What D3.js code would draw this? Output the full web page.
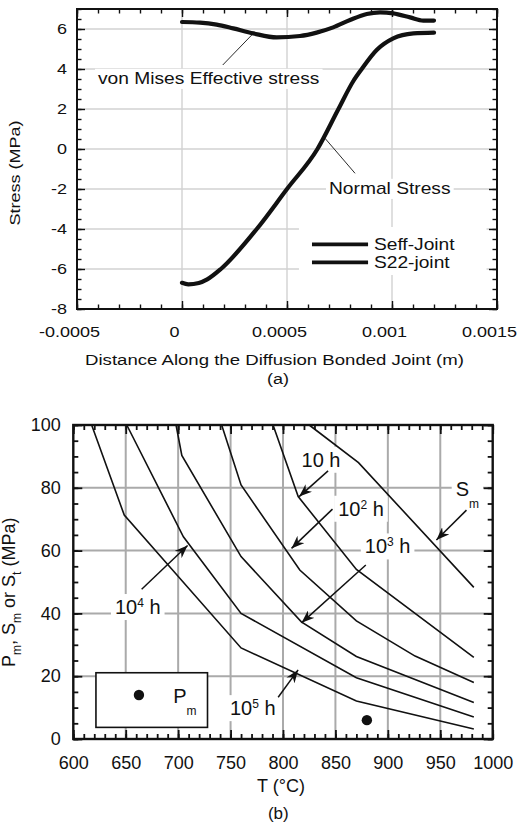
<!DOCTYPE html>
<html>
<head>
<meta charset="utf-8">
<script src="https://cdn.jsdelivr.net/npm/d3@7"></script>
<style>
  body { margin: 0; background: #fff; }
  text { font-family: "Liberation Sans", Arial, sans-serif; fill: #111; }
</style>
</head>
<body>
<svg id="fig" width="518" height="825"></svg>
<script>
// ---------- panel (a): stress along the joint ----------
const seffDist = [0, 0.0000857, 0.000165, 0.000244, 0.00034, 0.000451, 0.000562, 0.000641, 0.00072, 0.0008, 0.00088, 0.000943, 0.001006, 0.001086, 0.001149, 0.0012];
const seffStress = [6.35, 6.32, 6.22, 6.03, 5.78, 5.58, 5.65, 5.82, 6.08, 6.45, 6.75, 6.83, 6.78, 6.58, 6.42, 6.42];
const s22Dist = [0, 0.00003, 0.00008, 0.00012, 0.000185, 0.000356, 0.0005, 0.000645, 0.000745, 0.000816, 0.000856, 0.000927, 0.001006, 0.001102, 0.0012];
const s22Stress = [-6.69, -6.77, -6.7, -6.52, -6.0, -4.0, -2.0, 0.0, 2.0, 3.4, 4.0, 4.95, 5.53, 5.78, 5.82];
const aXTicks = [-0.0005, 0, 0.0005, 0.001, 0.0015];
const aYTicks = [-8, -6, -4, -2, 0, 2, 4, 6];
const aLegend = ["Seff-Joint", "S22-joint"];
const vmLeader = [[0.000194, 4.2], [0.00034, 5.785]];
const nsLeader = [[0.000824, -1.215], [0.000681, 0.535]];

// ---------- panel (b): allowable stress vs temperature ----------
const bXTicks = [600, 650, 700, 750, 800, 850, 900, 950, 1000];
const bYTicks = [0, 20, 40, 60, 80, 100];
const tSm = [825, 872, 982],                    pSm = [100, 88, 48.3];
const t10 = [790.5, 814.5, 870, 982],             p10 = [100, 77.2, 54, 26];
const t1e2 = [741.5, 760, 816, 870, 926, 982],    p1e2 = [100, 80.9, 53.8, 37.6, 26.4, 18];
const t1e3 = [698, 703.5, 760, 817.5, 870, 982],  p1e3 = [100, 90.3, 58.1, 37.3, 26.3, 11.6];
const t1e4 = [651, 705, 760, 870, 982],           p1e4 = [100, 64.4, 40, 19.5, 7];
const t1e5 = [617.5, 648.6, 760, 870, 982],       p1e5 = [100, 71.3, 29, 12.1, 3.2];
const pmT = [880], pmVal = [6];
// labels "10^n h": superscript, text anchor (T, P), arrow start and tip
const hourSup = ["", "2", "3", "4", "5"];
const hourLabelT = [817.7, 852.6, 878, 639.7, 749.4];
const hourLabelP = [86.7, 71.1, 59.1, 39.8, 7.6];
const hourArrowFrom = [[843, 85.4], [847.2, 73.2], [879, 55.4], [665.2, 47.7], [795.4, 13.3]];
const hourArrowTo = [[815.4, 77.2], [808.1, 60.7], [817.7, 37.0], [709, 61.6], [814.4, 22]];
const smArrow = [[975, 72.9], [946.3, 63.4]];

const svg = d3.select("#fig");
const zip = (a, b) => a.map((v, i) => [v, b[i]]);

function stretch(sel, k) {
  sel.each(function () {
    const t = d3.select(this);
    const ax = +t.attr("x") || 0;
    const tr = t.attr("transform") || "";
    t.attr("transform", `${tr} translate(${ax},0) scale(${k},1) translate(${-ax},0)`);
  });
}

// white box behind a text, measured after layout
function whiteBehind(layer, textNode, padX, padY) {
  const b = textNode.getBoundingClientRect();
  layer.append("rect")
    .attr("x", b.left - padX).attr("y", b.top - padY)
    .attr("width", b.width + 2 * padX).attr("height", b.height + 2 * padY)
    .attr("fill", "#fff");
}

function grid(g, x, y, xs, ys, color, w) {
  const [x0, x1] = x.range(), [yb, yt] = y.range();
  g.selectAll(null).data(xs).enter().append("line")
    .attr("x1", d => x(d)).attr("x2", d => x(d)).attr("y1", yb).attr("y2", yt)
    .attr("stroke", color).attr("stroke-width", w);
  g.selectAll(null).data(ys).enter().append("line")
    .attr("y1", d => y(d)).attr("y2", d => y(d)).attr("x1", x0).attr("x2", x1)
    .attr("stroke", color).attr("stroke-width", w);
}

function axes(g, x, y, o) {
  const [x0, x1] = x.range(), [yb, yt] = y.range();
  const fix = s => {
    s.select(".domain").remove();
    s.selectAll("line").attr("stroke", "#111").attr("stroke-width", o.tickW);
    s.attr("font-size", o.fs).attr("font-family", null);
  };
  g.append("g").attr("transform", `translate(0,${yb})`)
    .call(d3.axisBottom(x).tickValues(o.xMinor).tickSize(-o.minor).tickFormat("")).call(fix);
  g.append("g").attr("transform", `translate(0,${yt})`)
    .call(d3.axisTop(x).tickValues(o.xMinor).tickSize(-o.minor).tickFormat("")).call(fix);
  g.append("g").attr("transform", `translate(${x0},0)`)
    .call(d3.axisLeft(y).tickValues(o.yMinor).tickSize(-o.minor).tickFormat("")).call(fix);
  g.append("g").attr("transform", `translate(${x1},0)`)
    .call(d3.axisRight(y).tickValues(o.yMinor).tickSize(-o.minor).tickFormat("")).call(fix);

  const xb = g.append("g").attr("transform", `translate(0,${yb})`)
    .call(d3.axisBottom(x).tickValues(o.xTicks).tickSize(-o.major).tickPadding(o.padX).tickFormat(d => String(d))).call(fix);
  g.append("g").attr("transform", `translate(0,${yt})`)
    .call(d3.axisTop(x).tickValues(o.xTicks).tickSize(-o.major).tickFormat("")).call(fix);
  const yl = g.append("g").attr("transform", `translate(${x0},0)`)
    .call(d3.axisLeft(y).tickValues(o.yTicks).tickSize(-o.major).tickPadding(o.padY).tickFormat(d => String(d))).call(fix);
  g.append("g").attr("transform", `translate(${x1},0)`)
    .call(d3.axisRight(y).tickValues(o.yTicks).tickSize(-o.major).tickFormat("")).call(fix);

  g.append("rect").attr("x", x0).attr("y", yt).attr("width", x1 - x0).attr("height", yb - yt)
    .attr("fill", "none").attr("stroke", "#111").attr("stroke-width", o.frameW);
  return [xb.selectAll("text"), yl.selectAll("text")];
}

// ================= panel (a) =================
const xa = d3.scaleLinear().domain([-0.0005, 0.0015]).range([77, 497]);
const ya = d3.scaleLinear().domain([-8, 7]).range([309, 9]);
const ga = svg.append("g");
const aGrid = ga.append("g"), aBg = ga.append("g"), aCurves = ga.append("g"),
      aAnn = ga.append("g"), aText = ga.append("g"), aAxes = ga.append("g");

grid(aGrid, xa, ya, aXTicks.slice(1, -1), aYTicks.slice(1), "#d2d2d2", 1.4);

const lineA = d3.line().x(d => xa(d[0])).y(d => ya(d[1])).curve(d3.curveMonotoneX);
aCurves.selectAll(null).data([zip(seffDist, seffStress), zip(s22Dist, s22Stress)]).enter()
  .append("path").attr("d", lineA)
  .attr("fill", "none").attr("stroke", "#111").attr("stroke-width", 4.2).attr("stroke-linecap", "round");

// leaders
aAnn.selectAll(null).data([vmLeader, nsLeader]).enter().append("line")
  .attr("x1", d => xa(d[0][0])).attr("y1", d => ya(d[0][1]))
  .attr("x2", d => xa(d[1][0])).attr("y2", d => ya(d[1][1]))
  .attr("stroke", "#111").attr("stroke-width", 0.9);

const vmText = aText.append("text").attr("x", xa(-0.0004)).attr("y", ya(3.235))
  .attr("font-size", 16).text("von Mises Effective stress");
const nsText = aText.append("text").attr("x", xa(0.0007)).attr("y", ya(-2.265))
  .attr("font-size", 16).text("Normal Stress");
stretch(vmText, 1.2);
stretch(nsText, 1.2);
whiteBehind(aBg, vmText.node(), 3, 1);
whiteBehind(aBg, nsText.node(), 3, 1);

// legend
aBg.append("rect").attr("x", xa(0.000557)).attr("y", ya(-3.9))
  .attr("width", xa(0.00145) - xa(0.000557)).attr("height", ya(-6.3) - ya(-3.9)).attr("fill", "#fff");
const legY = [-4.77, -5.67];
aAnn.selectAll(null).data(aLegend).enter().append("line")
  .attr("x1", xa(0.000619)).attr("x2", xa(0.000886))
  .attr("y1", (d, i) => ya(legY[i])).attr("y2", (d, i) => ya(legY[i]))
  .attr("stroke", "#111").attr("stroke-width", 3.6);
aText.selectAll(null).data(aLegend).enter().append("text")
  .attr("x", xa(0.000914)).attr("y", (d, i) => ya(legY[i])).attr("dy", "0.35em")
  .attr("font-size", 16).text(d => d)
  .call(stretch, 1.2);

const [axT, ayT] = axes(aAxes, xa, ya, {
  xTicks: aXTicks, yTicks: aYTicks,
  xMinor: d3.range(-0.0005, 0.00151, 0.0001), yMinor: d3.range(-8, 7.01, 0.5),
  major: 8, minor: 4.5, tickW: 1.4, frameW: 2, fs: 15, padX: 17, padY: 10
});
// labels in the source sit a little left of their ticks
axT.attr("x", -8).call(stretch, 1.2);
ayT.call(stretch, 1.2);

svg.append("text").attr("transform", "translate(20,173) rotate(-90)")
  .attr("text-anchor", "middle").attr("font-size", 15).text("Stress (MPa)").call(stretch, 1.2);
svg.append("text").attr("x", 274.5).attr("y", 365).attr("text-anchor", "middle")
  .attr("font-size", 15.5).text("Distance Along the Diffusion Bonded Joint (m)").call(stretch, 1.2);
svg.append("text").attr("x", 278).attr("y", 384).attr("text-anchor", "middle")
  .attr("font-size", 15).text("(a)").call(stretch, 1.2);

// ================= panel (b) =================
const xb = d3.scaleLinear().domain([600, 1000]).range([73.3, 492.7]);
const yb = d3.scaleLinear().domain([0, 100]).range([739, 425]);
const gb = svg.append("g");
const bGrid = gb.append("g"), bBg = gb.append("g"), bCurves = gb.append("g"),
      bAnn = gb.append("g"), bText = gb.append("g"), bAxes = gb.append("g");

svg.append("defs").append("marker")
  .attr("id", "arr").attr("viewBox", "-13 -5 13 10").attr("refX", 0).attr("refY", 0)
  .attr("markerUnits", "userSpaceOnUse").attr("markerWidth", 13).attr("markerHeight", 10)
  .attr("orient", "auto")
  .append("path").attr("d", "M0,0L-13,-5L-9,0L-13,5Z").attr("fill", "#111");

grid(bGrid, xb, yb, bXTicks.slice(1, -1), bYTicks.slice(1, -1), "#aaaaaa", 2);

const lineB = d3.line().x(d => xb(d[0])).y(d => yb(d[1]));
const bSeries = [zip(tSm, pSm), zip(t10, p10), zip(t1e2, p1e2), zip(t1e3, p1e3), zip(t1e4, p1e4), zip(t1e5, p1e5)];
bCurves.selectAll(null).data(bSeries).enter().append("path")
  .attr("d", lineB).attr("fill", "none").attr("stroke", "#111").attr("stroke-width", 1.6);

bCurves.selectAll(null).data(zip(pmT, pmVal)).enter().append("circle")
  .attr("cx", d => xb(d[0])).attr("cy", d => yb(d[1])).attr("r", 5.2).attr("fill", "#111");

// hour labels
hourSup.forEach((s, i) => {
  const t = bText.append("text").attr("x", xb(hourLabelT[i])).attr("y", yb(hourLabelP[i])).attr("font-size", 20);
  t.append("tspan").text("10");
  if (s) {
    t.append("tspan").attr("font-size", 12).attr("dy", -7).text(s);
    t.append("tspan").attr("dy", 7).text(" h");
  } else {
    t.append("tspan").text(" h");
  }
  whiteBehind(bBg, t.node(), 4, 2);
});
bAnn.selectAll(null).data(hourArrowFrom.map((f, i) => [f, hourArrowTo[i]]).concat([smArrow])).enter()
  .append("line")
  .attr("x1", d => xb(d[0][0])).attr("y1", d => yb(d[0][1]))
  .attr("x2", d => xb(d[1][0])).attr("y2", d => yb(d[1][1]))
  .attr("stroke", "#111").attr("stroke-width", 1.5).attr("marker-end", "url(#arr)");

const smText = bText.append("text").attr("x", xb(964.7)).attr("y", yb(77.4)).attr("font-size", 20);
smText.append("tspan").text("S");
smText.append("tspan").attr("font-size", 12).attr("dy", 12).text("m");
whiteBehind(bBg, smText.node(), 4, 1);

// P_m legend box
bBg.append("rect").attr("x", xb(621.6)).attr("y", yb(21.1))
  .attr("width", xb(728) - xb(621.6)).attr("height", yb(3.7) - yb(21.1))
  .attr("fill", "#fff").attr("stroke", "#111").attr("stroke-width", 1.6);
bText.append("circle").attr("cx", xb(662.6)).attr("cy", yb(14)).attr("r", 5.2).attr("fill", "#111");
const pmText = bText.append("text").attr("x", xb(695.3)).attr("y", yb(11.6)).attr("font-size", 20);
pmText.append("tspan").text("P");
pmText.append("tspan").attr("font-size", 12).attr("dy", 12).text("m");

axes(bAxes, xb, yb, {
  xTicks: bXTicks, yTicks: bYTicks,
  xMinor: d3.range(600, 1001, 10), yMinor: d3.range(0, 101, 5),
  major: 9, minor: 5, tickW: 1.8, frameW: 2.4, fs: 18, padX: 17, padY: 12.5
});

const yTitle = svg.append("text").attr("transform", "translate(15,667) rotate(-90)").attr("font-size", 18);
[["P", 0], ["m", 1], [", S", 0], ["m", 1], [" or S", 0], ["t", 1], [" (MPa)", 0]].forEach(([s, sub], i, arr) => {
  const prevSub = i > 0 && arr[i - 1][1];
  yTitle.append("tspan").text(s)
    .attr("font-size", sub ? 12 : 18)
    .attr("dy", sub ? 6 : (prevSub ? -6 : 0));
});
svg.append("text").attr("x", 281).attr("y", 792).attr("text-anchor", "middle")
  .attr("font-size", 18).text("T (°C)");
svg.append("text").attr("x", 278.3).attr("y", 819).attr("text-anchor", "middle")
  .attr("font-size", 17).text("(b)");
</script>
</body>
</html>
